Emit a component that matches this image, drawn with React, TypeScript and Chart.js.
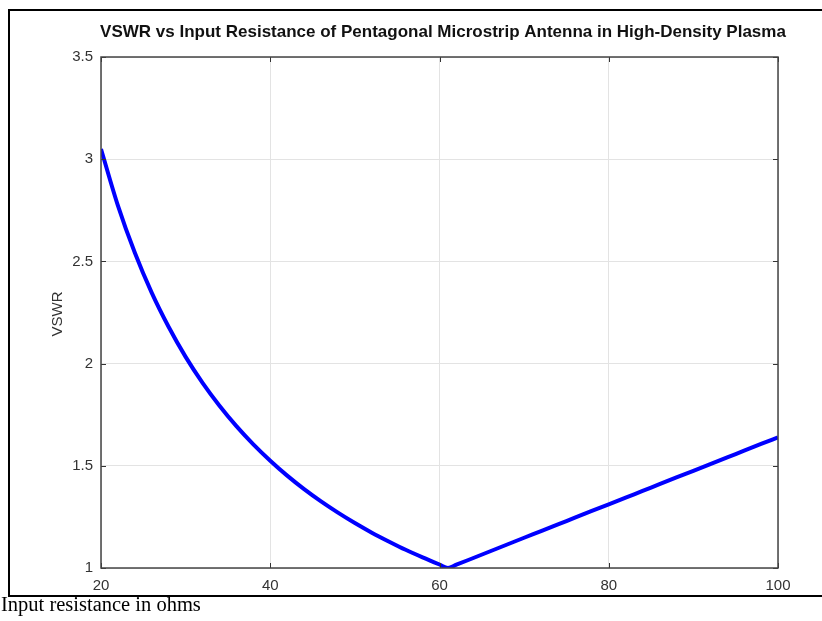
import React, { useEffect, useRef } from "react";
import { Chart, registerables } from "chart.js";

Chart.register(...registerables);

const TITLE = "VSWR vs Input Resistance of Pentagonal Microstrip Antenna in High-Density Plasma";
const Y_TITLE = "VSWR";
const X_TITLE = "Input resistance in ohms";

const resistance = [
  20, 22, 24, 26, 28, 30, 32, 34, 36, 38, 40, 42, 44, 46, 48, 50, 52, 54, 56, 58, 60, 61,
  62, 64, 66, 68, 70, 72, 74, 76, 78, 80, 82, 84, 86, 88, 90, 92, 94, 96, 98, 100,
];
const vswr = [
  3.05, 2.773, 2.542, 2.346, 2.179, 2.033, 1.906, 1.794, 1.694, 1.605, 1.525, 1.452, 1.386,
  1.326, 1.271, 1.22, 1.173, 1.13, 1.089, 1.052, 1.017, 1.0, 1.016, 1.049, 1.082, 1.115,
  1.148, 1.18, 1.213, 1.246, 1.279, 1.311, 1.344, 1.377, 1.41, 1.443, 1.475, 1.508, 1.541,
  1.574, 1.607, 1.639,
];
const xTicks = [20, 40, 60, 80, 100];
const yTicks = [1, 1.5, 2, 2.5, 3, 3.5];

const framePlugin = {
  id: "framePlugin",
  afterDraw(chart: any) {
    const { ctx, chartArea } = chart;
    const { left, right, top, bottom } = chartArea;
    const xs = chart.scales.x;
    const ys = chart.scales.y;
    ctx.save();
    ctx.strokeStyle = "#333";
    ctx.lineWidth = 1;
    ctx.beginPath();
    xTicks.forEach((v) => {
      const px = Math.round(xs.getPixelForValue(v)) + 0.5;
      ctx.moveTo(px, bottom);
      ctx.lineTo(px, bottom - 5);
      ctx.moveTo(px, top);
      ctx.lineTo(px, top + 5);
    });
    yTicks.forEach((v) => {
      const py = Math.round(ys.getPixelForValue(v)) + 0.5;
      ctx.moveTo(left, py);
      ctx.lineTo(left + 5, py);
      ctx.moveTo(right, py);
      ctx.lineTo(right - 5, py);
    });
    ctx.stroke();
    ctx.strokeStyle = "#444";
    ctx.lineWidth = 1.5;
    ctx.strokeRect(left, top, right - left, bottom - top);
    ctx.fillStyle = "#111";
    ctx.font = "bold 17px 'Liberation Sans', Arial, sans-serif";
    ctx.textAlign = "center";
    ctx.textBaseline = "alphabetic";
    ctx.fillText(TITLE, 443, 37);
    ctx.fillStyle = "#333";
    ctx.font = "15px 'Liberation Sans', Arial, sans-serif";
    ctx.translate(57.5, 314);
    ctx.rotate(-Math.PI / 2);
    ctx.textAlign = "center";
    ctx.textBaseline = "middle";
    ctx.fillText(Y_TITLE, 0, 0);
    ctx.restore();
  },
};

export default function App() {
  const ref = useRef<HTMLCanvasElement>(null);
  useEffect(() => {
    if (!ref.current) return;
    const chart = new Chart(ref.current, {
      type: "scatter",
      data: {
        datasets: [
          {
            data: resistance.map((r, i) => ({ x: r, y: vswr[i] })),
            showLine: true,
            borderColor: "#0000ff",
            backgroundColor: "#0000ff",
            borderWidth: 4,
            pointRadius: 0,
            cubicInterpolationMode: "monotone",
          },
        ],
      },
      options: {
        responsive: false,
        animation: false,
        layout: { padding: { left: 44, right: 44, top: 57, bottom: 23 } },
        plugins: { legend: { display: false }, tooltip: { enabled: false }, title: { display: false } },
        scales: {
          x: {
            type: "linear",
            min: 20,
            max: 100,
            afterBuildTicks: (s: any) => {
              s.ticks = xTicks.map((v) => ({ value: v }));
            },
            afterFit: (s: any) => {
              s.height = 30;
            },
            grid: { color: "#e3e3e3", lineWidth: 1, drawTicks: false },
            border: { display: false },
            ticks: {
              color: "#333",
              padding: 9,
              font: { size: 15, family: "'Liberation Sans', Arial, sans-serif" },
              maxRotation: 0,
            },
          },
          y: {
            type: "linear",
            min: 1,
            max: 3.5,
            afterBuildTicks: (s: any) => {
              s.ticks = yTicks.map((v) => ({ value: v }));
            },
            afterFit: (s: any) => {
              s.width = 57;
            },
            grid: { color: "#e3e3e3", lineWidth: 1, drawTicks: false },
            border: { display: false },
            ticks: {
              color: "#333",
              padding: 8,
              font: { size: 15, family: "'Liberation Sans', Arial, sans-serif" },
              callback: (v: any) => String(v),
            },
          },
        },
      },
      plugins: [framePlugin],
    });
    return () => chart.destroy();
  }, []);

  return (
    <div style={{ position: "fixed", left: 0, top: 0, width: 822, height: 621, overflow: "hidden", background: "#fff" }}>
      <div
        style={{
          position: "absolute",
          left: 8,
          top: 9,
          width: 840,
          height: 588,
          boxSizing: "border-box",
          border: "2px solid #000",
        }}
      />
      <canvas ref={ref} width={822} height={621} style={{ position: "absolute", left: 0, top: 0 }} />
      <div
        style={{
          position: "absolute",
          left: 1,
          top: 594,
          fontFamily: "'Liberation Serif', 'Times New Roman', serif",
          fontSize: 20.5,
          lineHeight: "20px",
          color: "#000",
          whiteSpace: "nowrap",
        }}
      >
        {X_TITLE}
      </div>
    </div>
  );
}
